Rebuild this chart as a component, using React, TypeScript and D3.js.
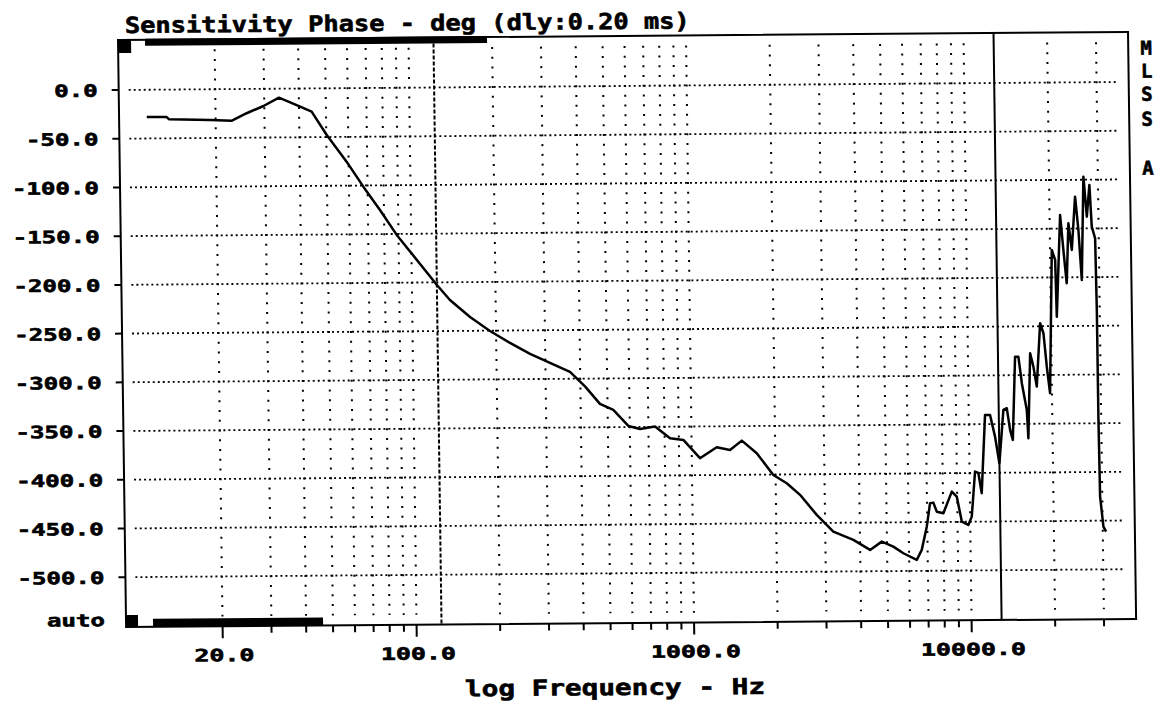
import React from "react";
import * as d3 from "d3";

// ---- data ----
const freqHz = [
  11.3, 13.3, 13.6, 19.1, 22.9, 25.9, 29.8, 33.9, 40.4, 44.4, 50.2, 59.0, 67.6, 77.4, 88.7,
  123.1, 136.9, 161.4, 190.2, 224.2, 264.5, 311.6, 367.6, 415.6, 469.6, 524.3, 592.9, 653,
  739.9, 836.6, 934.3, 1070, 1231, 1374, 1517, 1715, 1963, 2192, 2444, 2801, 3208, 3785,
  4343, 4790, 5270, 5721, 6389, 6668, 6969, 7180, 7380, 7585, 8013, 8612, 8971, 9326, 9845,
  10135, 10467, 10757, 11037, 11446, 11933, 12406, 12826, 13335, 13720, 14066, 14374, 14783,
  15194, 15590, 16197, 16359, 16759, 17192, 17641, 18265, 18759, 19213, 19683, 20295, 20845,
  21000, 21830, 22343, 22885, 23364, 23958, 24766, 25366, 25946, 26600, 27245, 27930, 28353,
  29113, 29288, 29310, 29459, 30180, 30832,
];
const phaseDeg = [
  -28, -28, -30.5, -31.5, -32.4, -24.9, -17.6, -9.2, -18.6, -23.8, -47.9, -75.4, -101.2, -125.3, -151,
  -202.7, -218.2, -235.8, -250.3, -262.8, -274.2, -283.6, -293, -308, -326, -332.4, -348.9, -352.1,
  -349.8, -361.9, -363.7, -382.6, -371.5, -374.4, -364.9, -378, -400.4, -409, -421, -441.7, -459, -467.7,
  -478.1, -469.7, -474.9, -481.8, -488.7, -478.5, -454.7, -430.7, -430.1, -439.4, -441, -419, -424.2, -449.8, -453.3,
  -444.8, -398.6, -400, -420.8, -340.5, -340.6, -362.9, -390.2, -335.6, -333.8, -356.1, -366.4, -281,
  -281, -308.3, -335.8, -364.8, -277.6, -291.4, -311.9, -246.9, -257.2, -291.5, -318.8, -171.8, -182.1,
  -240.3, -136, -171.9, -206.1, -144.6, -171.9, -117.3, -151.5, -202.8, -96.9, -137.9, -105.4, -148.2,
  -160.2, -233.7, -343.2, -425.3, -456.1, -461.3,
];

const yTickValues = [0, -50, -100, -150, -200, -250, -300, -350, -400, -450, -500];
const yTickLabels = ["0.0", "-50.0", "-100.0", "-150.0", "-200.0", "-250.0", "-300.0", "-350.0", "-400.0", "-450.0", "-500.0"];
const yBottomLabel = "auto";
const xMajorTicks = [20, 100, 1000, 10000];
const xMajorLabels = ["20.0", "100.0", "1000.0", "10000.0"];
const xGridFreqs = [
  20, 30, 40, 50, 60, 70, 80, 90,
  100, 200, 300, 400, 500, 600, 700, 800, 900,
  1000, 2000, 3000, 4000, 5000, 6000, 7000, 8000, 9000,
  10000, 20000, 30000,
];
const xDomain = [8.98, 39160];
const yDomain = [51.3, -551.1];
const markerFreq = 123;
const cursorFreq = 12830;
const titleText = "Sensitivity Phase - deg (dly:0.20 ms)";
const xTitleText = "log Frequency - Hz";
const sideLetters = ["M", "L", "S", "S", "A"];

const W = 1159;
const H = 706;
const PL = 118;
const PR = 1128;
const PT = 40;
const PB = 627;
const FONT = "'DejaVu Sans Mono', monospace";

export default function App() {
  const x = d3.scaleLog().domain(xDomain).range([PL, PR]);
  const y = d3.scaleLinear().domain(yDomain).range([PT, PB]);
  const pts: [number, number][] = freqHz.map((f, i) => [f, phaseDeg[i]]);
  const line = d3
    .line<[number, number]>()
    .x((d) => x(d[0]))
    .y((d) => y(d[1]));
  const colTop = y(40) - 1;
  const colBot = y(-540) + 1;
  const bold = { fontFamily: FONT, fontWeight: "bold" as const, stroke: "#000", strokeWidth: 0.6 };

  return (
    <svg
      width={W}
      height={H}
      viewBox={`0 0 ${W} ${H}`}
      style={{ position: "absolute", left: 0, top: 0, display: "block", background: "#fff" }}
    >
      <rect x={0} y={0} width={W} height={H} fill="#fff" />
      <g transform="matrix(1,-0.008,0.0138,1,-0.552,0.944)">
        {/* vertical dotted grid columns */}
        {xGridFreqs.map((f) => (
          <line
            key={"vc" + f}
            x1={x(f)}
            x2={x(f)}
            y1={colTop}
            y2={colBot}
            stroke="#000"
            strokeWidth={2}
            strokeDasharray="2 7.75"
          />
        ))}
        {/* horizontal dotted grid lines */}
        {yTickValues.map((v) => (
          <line
            key={"hg" + v}
            x1={PL + 10}
            x2={PR - 10}
            y1={y(v)}
            y2={y(v)}
            stroke="#000"
            strokeWidth={1.8}
            strokeDasharray="2 3"
          />
        ))}
        {/* marker (dashed) and cursor (solid) */}
        <line x1={x(markerFreq)} x2={x(markerFreq)} y1={PT} y2={PB} stroke="#000" strokeWidth={2} strokeDasharray="4 2" />
        <line x1={x(cursorFreq)} x2={x(cursorFreq)} y1={PT} y2={PB} stroke="#000" strokeWidth={2} />

        {/* frame */}
        <rect x={PL} y={PT} width={PR - PL} height={PB - PT} fill="none" stroke="#000" strokeWidth={2} />
        {/* level bars */}
        <rect x={PL} y={PT} width={13} height={13} fill="#000" />
        <rect x={145} y={PT - 1} width={342} height={7} fill="#000" />
        <rect x={PL} y={PB - 12} width={12} height={12} fill="#000" />
        <rect x={145} y={PB - 8} width={170} height={8} fill="#000" />

        {/* data curve */}
        <path d={line(pts) || ""} fill="none" stroke="#000" strokeWidth={2.5} strokeLinejoin="round" />

        {/* y ticks + labels */}
        {yTickValues.map((v, i) => (
          <g key={"yt" + v}>
            <line x1={PL - 7} x2={PL} y1={y(v)} y2={y(v)} stroke="#000" strokeWidth={2} />
            <text
              x={97}
              y={y(v) + 6.5}
              textAnchor="end"
              {...bold}
              fontSize={17}
              textLength={yTickLabels[i].length * 14.5}
              lengthAdjust="spacingAndGlyphs"
            >
              {yTickLabels[i]}
            </text>
          </g>
        ))}
        <text
          x={97}
          y={626}
          textAnchor="end"
          {...bold}
          fontSize={17}
          textLength={yBottomLabel.length * 14.5}
          lengthAdjust="spacingAndGlyphs"
        >
          {yBottomLabel}
        </text>

        {/* x ticks */}
        {xGridFreqs.map((f) => {
          const major = xMajorTicks.includes(f);
          return (
            <line
              key={"xt" + f}
              x1={x(f)}
              x2={x(f)}
              y1={PB}
              y2={PB + (major ? 12 : 7)}
              stroke="#000"
              strokeWidth={2}
            />
          );
        })}
        {xMajorTicks.map((f, i) => (
          <text
            key={"xl" + f}
            x={x(f) + 1.5}
            y={662}
            textAnchor="middle"
            {...bold}
            fontSize={17}
            textLength={xMajorLabels[i].length * 15}
            lengthAdjust="spacingAndGlyphs"
          >
            {xMajorLabels[i]}
          </text>
        ))}

        {/* titles */}
        <text x={125} y={33} {...bold} fontSize={22} textLength={565} lengthAdjust="spacingAndGlyphs">
          {titleText}
        </text>
        <text
          x={606}
          y={699}
          textAnchor="middle"
          {...bold}
          fontSize={22}
          textLength={300}
          lengthAdjust="spacingAndGlyphs"
        >
          {xTitleText}
        </text>
        {sideLetters.map((s, i) => (
          <text key={"sl" + i} x={1146} y={[63, 86, 109, 134, 183][i]} textAnchor="middle" {...bold} fontSize={19}>
            {s}
          </text>
        ))}
      </g>
    </svg>
  );
}
